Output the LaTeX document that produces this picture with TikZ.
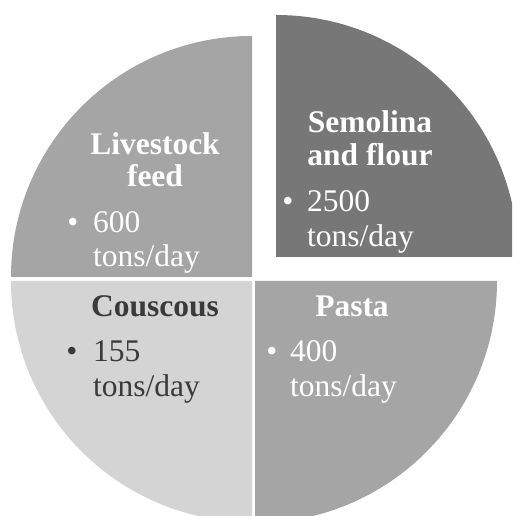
\documentclass[tikz,border=0pt]{standalone}
\usepackage{fontspec}
\setmainfont{Liberation Serif}
\definecolor{qtl}{HTML}{A5A5A5}
\definecolor{qtr}{HTML}{777777}
\definecolor{qbl}{HTML}{D4D4D4}
\definecolor{qbr}{HTML}{A5A5A5}
\definecolor{darktxt}{HTML}{3A3A3A}
\begin{document}
\begin{tikzpicture}[x=1pt,y=1pt,
  lbl/.style={inner sep=0pt, font=\fontsize{31.5}{33}\selectfont},
  hd/.style={inner sep=0pt, anchor=base, font=\fontsize{31.5}{33}\selectfont\bfseries},
  bul/.style={lbl, anchor=base},
  val/.style={lbl, anchor=base west}]
\useasboundingbox (0,0) rectangle (512,516);
\begin{scope}
\clip (0,0) rectangle (512,516);
\fill[qtl] (252,239) -- (11,239) arc[start angle=180, end angle=90, radius=241] -- cycle;
\fill[qtr] (276,259) -- (276,501) arc[start angle=90, end angle=0, radius=242] -- cycle;
\fill[qbl] (252,235) -- (11,235) arc[start angle=180, end angle=270, radius=241] -- cycle;
\fill[qbr] (255,235) -- (255,-7) arc[start angle=270, end angle=360, radius=242] -- cycle;
\end{scope}
% top-left
\node[hd, white] (tlh1) at (155,361) {Livestock};
\node[hd, white] (tlh2) at (155,329) {feed};
\node[bul, white] (tlb) at (73,283) {•};
\node[val, white] (tlv1) at (93,283) {600};
\node[val, white] (tlv2) at (93,249) {tons/day};
% top-right
\node[hd, white] (trh1) at (370,383) {Semolina};
\node[hd, white] (trh2) at (370,350) {and flour};
\node[bul, white] (trb) at (288,304) {•};
\node[val, white] (trv1) at (307,304) {2500};
\node[val, white] (trv2) at (307,269) {tons/day};
% bottom-left
\node[hd, darktxt] (blh) at (155,199) {Couscous};
\node[bul, darktxt] (blb) at (72,154) {•};
\node[val, darktxt] (blv1) at (93,154) {155};
\node[val, darktxt] (blv2) at (93,119) {tons/day};
% bottom-right
\node[hd, white] (brh) at (352,199) {Pasta};
\node[bul, white] (brb) at (272,154) {•};
\node[val, white] (brv1) at (290,154) {400};
\node[val, white] (brv2) at (290,119) {tons/day};
\end{tikzpicture}
\end{document}
